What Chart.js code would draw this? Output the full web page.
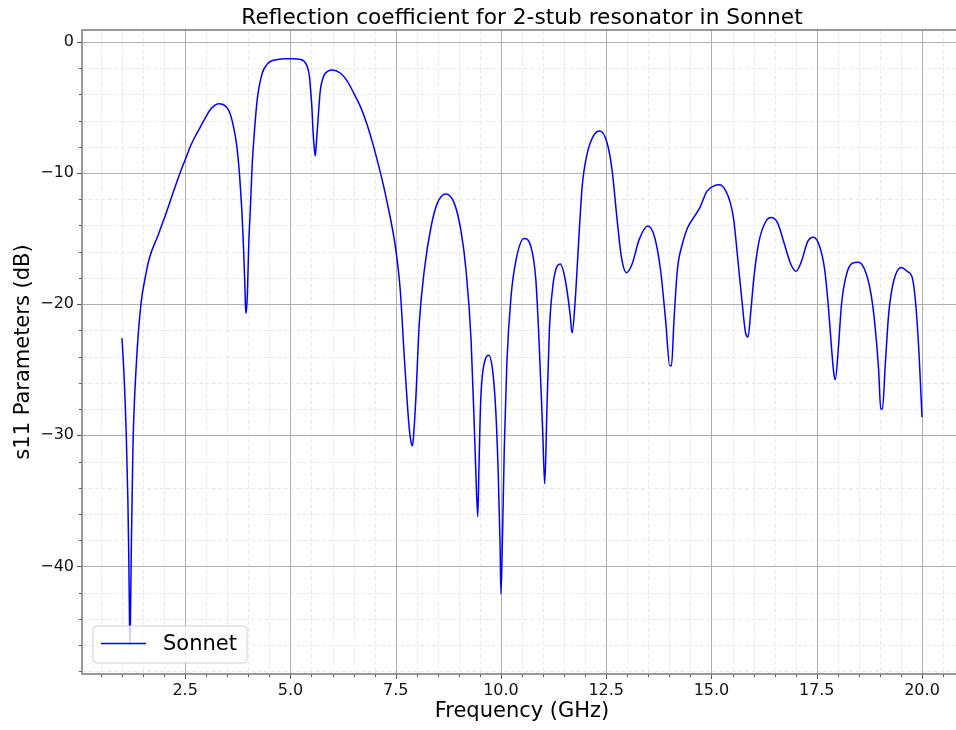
<!DOCTYPE html>
<html>
<head>
<meta charset="utf-8">
<script src="https://cdn.jsdelivr.net/npm/chart.js@4/dist/chart.umd.min.js"></script>
<style>
html,body{margin:0;padding:0;overflow:hidden;background:#fff;width:956px;height:730px}
#wrap{position:absolute;left:0;top:0;width:962px;height:730px}
</style>
</head>
<body>
<div id="wrap"><canvas id="c" width="962" height="730"></canvas></div>
<script>
// ---- data ----
const freqGHz = [
  1.00,1.05,1.10,1.14,1.16,1.18,1.19,1.20,1.22,1.26,1.34,1.45,1.55,1.65,1.85,2.00,2.15,2.30,2.45,2.55,
  2.62,2.74,2.86,2.98,3.09,3.20,3.29,3.40,3.49,3.57,3.65,3.72,3.77,3.81,3.85,3.88,3.90,3.92,3.94,3.96,
  3.98,4.01,4.05,4.09,4.13,4.21,4.33,4.45,4.52,4.70,4.84,5.05,5.24,5.33,5.40,5.45,5.48,5.51,5.54,5.57,
  5.59,5.61,5.65,5.71,5.77,5.83,5.99,6.19,6.35,6.51,6.67,6.82,6.96,7.10,7.22,7.30,7.39,7.51,7.61,7.70,
  7.82,7.87,7.90,7.93,7.98,8.06,8.18,8.34,8.49,8.69,8.89,9.05,9.17,9.29,9.37,9.41,9.45,9.48,9.52,9.62,
  9.71,9.80,9.88,9.94,9.98,10.00,10.04,10.08,10.14,10.24,10.36,10.55,10.71,10.83,10.91,10.99,11.04,11.09,11.15,11.23,
  11.30,11.41,11.53,11.64,11.69,11.76,11.83,11.93,12.05,12.21,12.35,12.52,12.64,12.76,12.86,12.98,13.12,13.28,13.49,13.65,
  13.79,13.91,14.01,14.05,14.11,14.19,14.31,14.43,14.62,14.73,14.89,15.05,15.19,15.33,15.45,15.53,15.62,15.73,15.81,15.87,
  15.93,16.01,16.13,16.29,16.42,16.57,16.73,16.89,17.01,17.13,17.29,17.42,17.57,17.69,17.77,17.85,17.91,17.94,18.01,18.09,
  18.21,18.34,18.49,18.63,18.77,18.87,18.97,19.02,19.06,19.13,19.21,19.33,19.51,19.65,19.77,19.85,19.93,20.00
];
const s11dB = [
  -22.6,-25.5,-29.8,-35.0,-39.0,-44.5,-46.0,-44.0,-39.0,-30.9,-24.6,-20.0,-18.0,-16.5,-14.8,-13.5,-12.1,-10.7,-9.4,-8.6,
  -8.0,-7.2,-6.5,-5.8,-5.2,-4.85,-4.72,-4.78,-5.0,-5.5,-6.5,-7.8,-9.3,-11.0,-13.1,-15.2,-16.9,-18.8,-20.7,-20.3,
  -19.0,-15.5,-12.6,-9.5,-7.5,-4.45,-2.4,-1.7,-1.5,-1.35,-1.3,-1.3,-1.35,-1.5,-1.9,-2.6,-3.7,-5.0,-7.0,-8.2,
  -8.7,-8.0,-6.2,-3.7,-2.8,-2.4,-2.15,-2.4,-3.0,-3.95,-5.0,-6.3,-7.8,-9.5,-11.1,-12.3,-13.7,-16.0,-19.0,-23.8,
  -29.4,-30.6,-30.8,-29.8,-27.1,-21.5,-17.4,-14.1,-12.3,-11.6,-12.3,-14.4,-17.4,-22.7,-29.6,-33.4,-36.2,-32.1,-27.3,-24.3,
  -23.9,-25.0,-28.3,-33.4,-38.5,-42.1,-37.2,-30.9,-24.5,-19.4,-16.6,-15.0,-15.6,-18.2,-23.2,-29.6,-33.7,-28.3,-22.0,-18.7,
  -17.4,-16.95,-18.2,-20.7,-22.2,-19.9,-16.1,-11.0,-8.5,-7.1,-6.8,-7.7,-9.8,-13.6,-16.4,-17.6,-16.9,-15.1,-14.05,-14.9,
  -17.4,-21.2,-24.7,-24.7,-21.2,-17.4,-15.4,-14.2,-13.2,-12.6,-11.4,-11.0,-10.9,-11.3,-12.3,-13.6,-16.4,-19.95,-22.2,-22.5,
  -20.7,-17.9,-15.2,-13.7,-13.4,-13.8,-15.4,-17.0,-17.5,-16.8,-15.2,-14.9,-15.6,-17.4,-19.95,-23.3,-25.4,-25.75,-23.5,-19.95,
  -17.7,-16.9,-16.8,-17.3,-18.9,-21.2,-25.0,-28.0,-28.0,-24.5,-20.7,-18.2,-17.2,-17.5,-18.0,-19.95,-23.8,-28.6
];
const seriesName = 'Sonnet';
const chartTitle = 'Reflection coefficient for 2-stub resonator in Sonnet';
const xAxisTitle = 'Frequency (GHz)';
const yAxisTitle = 's11 Parameters (dB)';
const xMajorStep = 2.5, xMinorStep = 0.5;
const yMajorStep = 10, yMinorStep = 2;
const xRange = [0.05, 20.95];
const yRange = [-48.2, 0.9];

// ---- helpers ----
function tickValues(min, max, step) {
  const out = [];
  const start = Math.ceil(min / step - 1e-9);
  const end = Math.floor(max / step + 1e-9);
  for (let i = start; i <= end; i++) out.push(+(i * step).toFixed(6));
  return out;
}
function isMultiple(v, step) { const r = v / step; return Math.abs(r - Math.round(r)) < 1e-6; }

const FONT = "'DejaVu Sans', 'Liberation Sans', sans-serif";
Chart.defaults.font.family = FONT;

const gridPlugin = {
  id: 'mplGrid',
  beforeDatasetsDraw(chart) {
    const {ctx, chartArea: a, scales: {x, y}} = chart;
    ctx.save();
    ctx.beginPath();
    ctx.rect(a.left, a.top, a.right - a.left, a.bottom - a.top);
    ctx.clip();
    ctx.setLineDash([4, 2.5]);
    ctx.strokeStyle = '#e3e3e3';
    ctx.lineWidth = 0.8;
    ctx.beginPath();
    for (const v of tickValues(xRange[0], xRange[1], xMinorStep)) {
      if (isMultiple(v, xMajorStep)) continue;
      const px = Math.round(x.getPixelForValue(v)) + 0.5;
      ctx.moveTo(px, a.top); ctx.lineTo(px, a.bottom);
    }
    for (const v of tickValues(yRange[0], yRange[1], yMinorStep)) {
      if (isMultiple(v, yMajorStep)) continue;
      const py = Math.round(y.getPixelForValue(v)) + 0.5;
      ctx.moveTo(a.left, py); ctx.lineTo(a.right, py);
    }
    ctx.stroke();
    ctx.setLineDash([]);
    ctx.strokeStyle = '#b0b0b0';
    ctx.lineWidth = 1;
    ctx.beginPath();
    for (const v of tickValues(xRange[0], xRange[1], xMajorStep)) {
      const px = Math.round(x.getPixelForValue(v)) + 0.5;
      ctx.moveTo(px, a.top); ctx.lineTo(px, a.bottom);
    }
    for (const v of tickValues(yRange[0], yRange[1], yMajorStep)) {
      const py = Math.round(y.getPixelForValue(v)) + 0.5;
      ctx.moveTo(a.left, py); ctx.lineTo(a.right, py);
    }
    ctx.stroke();
    ctx.restore();
  },
  afterDatasetsDraw(chart) {
    const {ctx, chartArea: a, scales: {x, y}} = chart;
    ctx.save();
    ctx.strokeStyle = '#555';
    ctx.lineWidth = 1;
    ctx.beginPath();
    for (const v of tickValues(xRange[0], xRange[1], xMinorStep)) {
      const major = isMultiple(v, xMajorStep);
      const px = Math.round(x.getPixelForValue(v)) + 0.5;
      ctx.moveTo(px, a.bottom); ctx.lineTo(px, a.bottom + (major ? 5 : 3));
    }
    for (const v of tickValues(yRange[0], yRange[1], yMinorStep)) {
      const major = isMultiple(v, yMajorStep);
      const py = Math.round(y.getPixelForValue(v)) + 0.5;
      ctx.moveTo(a.left, py); ctx.lineTo(a.left - (major ? 5 : 3), py);
    }
    ctx.stroke();
    ctx.strokeStyle = '#808080';
    ctx.lineWidth = 1.6;
    ctx.strokeRect(a.left, a.top, a.right - a.left, a.bottom - a.top);
    ctx.restore();
  },
  afterDraw(chart) {
    const {ctx, chartArea: a} = chart;
    const ds = chart.data.datasets[0];
    ctx.save();
    ctx.font = '21px ' + FONT;
    const tw = ctx.measureText(ds.label).width;
    const bx = a.left + 11, bh = 37, by = a.bottom - 11 - bh;
    const bw = 70 + tw + 10;
    const r = 4;
    ctx.beginPath();
    ctx.moveTo(bx + r, by);
    ctx.arcTo(bx + bw, by, bx + bw, by + bh, r);
    ctx.arcTo(bx + bw, by + bh, bx, by + bh, r);
    ctx.arcTo(bx, by + bh, bx, by, r);
    ctx.arcTo(bx, by, bx + bw, by, r);
    ctx.closePath();
    ctx.fillStyle = 'rgba(255,255,255,0.8)';
    ctx.fill();
    ctx.strokeStyle = '#d0d0d0';
    ctx.lineWidth = 1;
    ctx.stroke();
    const cy = by + bh / 2 - 1;
    ctx.strokeStyle = ds.borderColor;
    ctx.lineWidth = ds.borderWidth;
    ctx.beginPath();
    ctx.moveTo(bx + 8, cy); ctx.lineTo(bx + 53, cy);
    ctx.stroke();
    ctx.fillStyle = '#000';
    ctx.textBaseline = 'middle';
    ctx.textAlign = 'left';
    ctx.fillText(ds.label, bx + 70, cy + 1);
    ctx.restore();
  }
};

const ctx = document.getElementById('c').getContext('2d');
new Chart(ctx, {
  type: 'line',
  data: {
    datasets: [{
      label: seriesName,
      data: freqGHz.map((f, i) => ({x: f, y: s11dB[i]})),
      borderColor: '#0000ff',
      borderWidth: 1.5,
      pointRadius: 0,
      fill: false,
      cubicInterpolationMode: 'monotone'
    }]
  },
  options: {
    responsive: false,
    animation: false,
    devicePixelRatio: 1,
    layout: {padding: {left: 0, right: 0, top: 0, bottom: 0}},
    plugins: {
      legend: {display: false},
      tooltip: {enabled: false},
      title: {
        display: true, text: chartTitle, fullSize: false, color: '#000',
        font: {size: 21.7, weight: 'normal', lineHeight: 1}, padding: {top: 7.5, bottom: 0.8}
      }
    },
    scales: {
      x: {
        type: 'linear', min: xRange[0], max: xRange[1],
        grid: {display: false, drawTicks: false},
        border: {display: false},
        ticks: {
          stepSize: xMajorStep, includeBounds: false, autoSkip: false, maxRotation: 0,
          padding: 7, color: '#111', font: {size: 16},
          callback: v => Number(v).toFixed(1)
        },
        title: {display: true, text: xAxisTitle, color: '#000', font: {size: 21}, padding: {top: 0, bottom: 6}},
        afterFit: s => { s.height = 56; }
      },
      y: {
        type: 'linear', min: yRange[0], max: yRange[1],
        grid: {display: false, drawTicks: false},
        border: {display: false},
        ticks: {
          stepSize: yMajorStep, includeBounds: false, autoSkip: false,
          padding: 8, color: '#111', font: {size: 16},
          callback: v => (v < 0 ? '\u2212' + Math.abs(v) : String(v))
        },
        title: {display: true, text: yAxisTitle, color: '#000', font: {size: 21}, padding: {top: 11, bottom: 0}},
        afterFit: s => { s.width = 82; }
      }
    }
  },
  plugins: [gridPlugin]
});
</script>
</body>
</html>
